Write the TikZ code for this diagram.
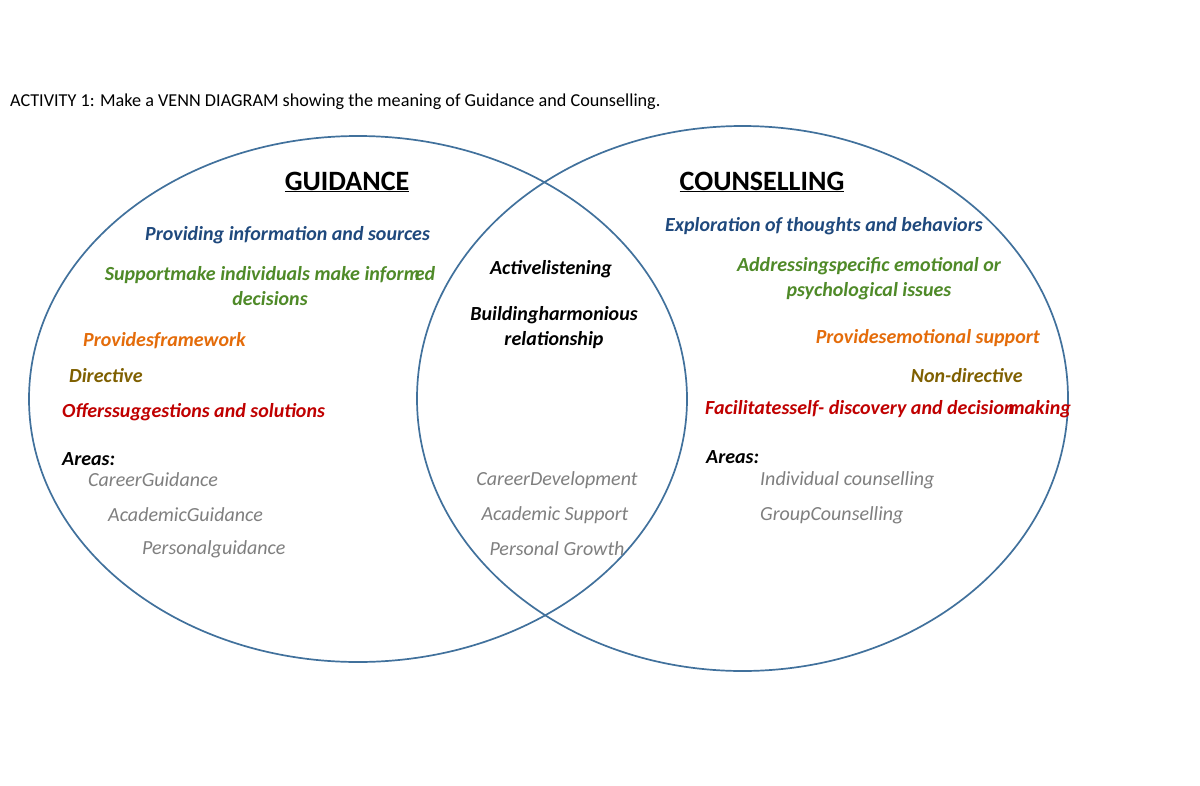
\documentclass[tikz,border=0pt]{standalone}
\usepackage{fontspec}
\setmainfont{Carlito}
\usetikzlibrary{shapes.geometric}
\definecolor{vennline}{RGB}{65,113,156}
\definecolor{dblue}{RGB}{31,73,125}
\definecolor{dgreen}{RGB}{79,138,40}
\definecolor{dorange}{RGB}{228,108,10}
\definecolor{dolive}{RGB}{127,96,0}
\definecolor{dred}{RGB}{192,0,0}
\definecolor{dgray}{RGB}{127,127,127}
\tikzset{
  venn/.style={draw=vennline, line width=1.7pt, ellipse, inner sep=0pt, fill=none},
  txt/.style={inner sep=0pt, font=\fontsize{20}{25}\selectfont\bfseries\itshape},
  area/.style={inner sep=0pt, font=\fontsize{20}{25}\selectfont\itshape, text=dgray},
  head/.style={inner sep=0pt, font=\fontsize{28}{32}\selectfont\bfseries},
  cen/.style={align=center},
}
\begin{document}
\begin{tikzpicture}[x=1pt,y=-1pt]
\fill[white] (0,0) rectangle (1200,785);
\useasboundingbox (0,0) rectangle (1200,785);

\node[inner sep=0pt, anchor=west, font=\fontsize{18.2}{22}\selectfont] (title) at (10,102)
  {ACTIVITY 1: Make a VENN DIAGRAM showing the meaning of Guidance and Counselling.};

\node[venn, minimum width=658pt, minimum height=526pt] (G) at (358,399) {};
\node[venn, minimum width=651pt, minimum height=545pt] (C) at (742.5,398.5) {};

\node[head] (gh) at (347,182) {\underline{GUIDANCE}};
\node[head] (ch) at (762,182) {\underline{COUNSELLING}};

% Guidance
\node[txt, text=dblue, anchor=west] (g1) at (145,235) {Providing information and sources};
\node[txt, text=dgreen, cen] (g2) at (270,286) {Supportmake individuals make inform\kern-.25em ed\\decisions};
\node[txt, text=dorange, anchor=west] (g3) at (83,341) {Providesframework};
\node[txt, text=dolive, anchor=west] (g4) at (69,376) {Directive};
\node[txt, text=dred, anchor=west] (g5) at (62,412) {Offerssuggestions and solutions};
\node[txt, text=black, anchor=west] (ga) at (62,459) {Areas:};
\node[area, anchor=west] (ga1) at (88,480) {CareerGuidance};
\node[area, anchor=west] (ga2) at (108,515) {AcademicGuidance};
\node[area, anchor=west] (ga3) at (142,549) {Personalguidance};

% Middle
\node[txt, text=black] (m1) at (551,269) {Activelistening};
\node[txt, text=black, cen] (m2) at (554,328) {Buildingharmonious\\relationship};
\node[area] (ma1) at (557,480) {CareerDevelopment};
\node[area] (ma2) at (555,515) {Academic Support};
\node[area] (ma3) at (557,549) {Personal Growth};

% Counselling
\node[txt, text=dblue, anchor=west] (c1) at (665,226) {Exploration of thoughts and behaviors};
\node[txt, text=dgreen, cen] (c2) at (869,279) {Addressingspecific emotional or\\psychological issues};
\node[txt, text=dorange, anchor=east] (c3) at (1040,338) {Providesemotional support};
\node[txt, text=dolive, anchor=east] (c4) at (1023,376) {Non-directive};
\node[txt, text=dred, anchor=west] (c5) at (705,409) {Facilitatesself- discovery and decision\kern-.3em making};
\node[txt, text=black, anchor=west] (ca) at (706,457) {Areas:};
\node[area, anchor=west] (ca1) at (760,480) {Individual counselling};
\node[area, anchor=west] (ca2) at (760,515) {GroupCounselling};
\end{tikzpicture}
\end{document}
